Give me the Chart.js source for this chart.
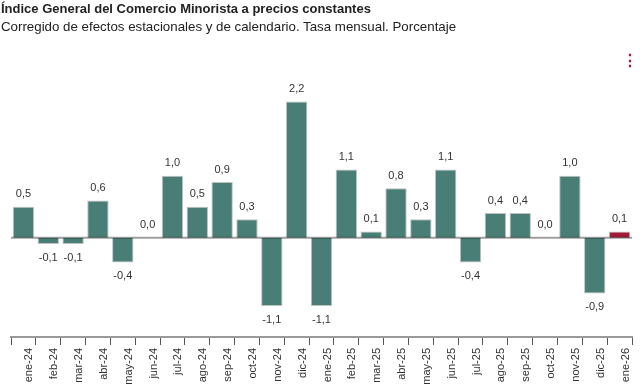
<!DOCTYPE html>
<html>
<head>
<meta charset="utf-8">
<script src="https://cdn.jsdelivr.net/npm/chart.js@4.4.1/dist/chart.umd.min.js"></script>
<style>
  html, body { margin: 0; padding: 0; background: #fff; }
  #wrap { position: relative; width: 642px; height: 390px; font-family: "Liberation Sans", Arial, sans-serif; }
  #title { position: absolute; left: 1px; top: 1px; font-size: 13px; font-weight: bold; color: #222; white-space: nowrap; }
  #subtitle { position: absolute; left: 1px; top: 19px; font-size: 13.3px; color: #222; white-space: nowrap; }
  #menu { position: absolute; left: 622px; top: 53px; font-size: 16px; font-weight: bold; color: #a11a37; line-height: 16px; }
  canvas { position: absolute; left: 0; top: 0; }
</style>
</head>
<body>
<div id="wrap">
  <canvas id="chart" width="642" height="390"></canvas>
  <div id="title">Índice General del Comercio Minorista a precios constantes</div>
  <div id="subtitle">Corregido de efectos estacionales y de calendario. Tasa mensual. Porcentaje</div>
  <div id="menu">⋮</div>
</div>
<script>
  // Datos: tasa mensual (%) del comercio minorista
  const months = [
    'ene-24', 'feb-24', 'mar-24', 'abr-24', 'may-24', 'jun-24', 'jul-24', 'ago-24',
    'sep-24', 'oct-24', 'nov-24', 'dic-24', 'ene-25', 'feb-25', 'mar-25', 'abr-25',
    'may-25', 'jun-25', 'jul-25', 'ago-25', 'sep-25', 'oct-25', 'nov-25', 'dic-25', 'ene-26'
  ];
  const tasaMensual = [
    0.5, -0.1, -0.1, 0.6, -0.4, 0.0, 1.0, 0.5, 0.9, 0.3, -1.1, 2.2, -1.1,
    1.1, 0.1, 0.8, 0.3, 1.1, -0.4, 0.4, 0.4, 0.0, 1.0, -0.9, 0.1
  ];

  const TEAL = '#487e76';
  const CRIMSON = '#a11a37';
  const barColors = tasaMensual.map((_, i) => i === tasaMensual.length - 1 ? CRIMSON : TEAL);

  // etiquetas de valor y linea del cero
  const valueLabels = {
    id: 'valueLabels',
    afterDatasetsDraw(chart) {
      const ctx = chart.ctx;
      const y = chart.scales.y;
      const area = chart.chartArea;
      const y0 = y.getPixelForValue(0);
      ctx.save();
      ctx.strokeStyle = 'rgba(0,0,0,0.38)';
      ctx.lineWidth = 2;
      ctx.beginPath();
      ctx.moveTo(area.left, y0);
      ctx.lineTo(area.right, y0);
      ctx.stroke();

      ctx.font = '11px "Liberation Sans", Arial, sans-serif';
      ctx.fillStyle = '#333';
      ctx.textAlign = 'center';
      const meta = chart.getDatasetMeta(0);
      meta.data.forEach((bar, i) => {
        const v = tasaMensual[i];
        const txt = v.toFixed(1).replace('.', ',');
        if (v >= 0) {
          ctx.textBaseline = 'bottom';
          ctx.fillText(txt, bar.x, bar.y - 7);
        } else {
          ctx.textBaseline = 'top';
          ctx.fillText(txt, bar.x, bar.y + 8);
        }
      });
      ctx.restore();
    }
  };

  new Chart(document.getElementById('chart'), {
    type: 'bar',
    data: {
      labels: months,
      datasets: [{
        data: tasaMensual,
        backgroundColor: barColors,
        borderColor: 'rgba(150,150,150,0.6)',
        borderWidth: 1,
        borderSkipped: 'start',
        barPercentage: 0.86,
        categoryPercentage: 1
      }]
    },
    options: {
      responsive: false,
      animation: false,
      layout: { padding: { top: 40, left: 11, right: 10, bottom: 0 } },
      scales: {
        x: {
          grid: {
            offset: true,
            drawOnChartArea: false,
            drawTicks: true,
            tickLength: 8,
            color: '#555',
            lineWidth: 1
          },
          border: { display: true, color: '#999', width: 2 },
          ticks: {
            minRotation: 90,
            maxRotation: 90,
            autoSkip: false,
            padding: 3,
            labelOffset: 6,
            color: '#333',
            font: { family: '"Liberation Sans", Arial, sans-serif', size: 11 }
          },
          afterFit(scale) { scale.height = 53; }
        },
        y: {
          display: false,
          min: -1.6,
          max: 3.19
        }
      },
      plugins: {
        legend: { display: false },
        tooltip: { enabled: false }
      }
    },
    plugins: [valueLabels]
  });
</script>
</body>
</html>
